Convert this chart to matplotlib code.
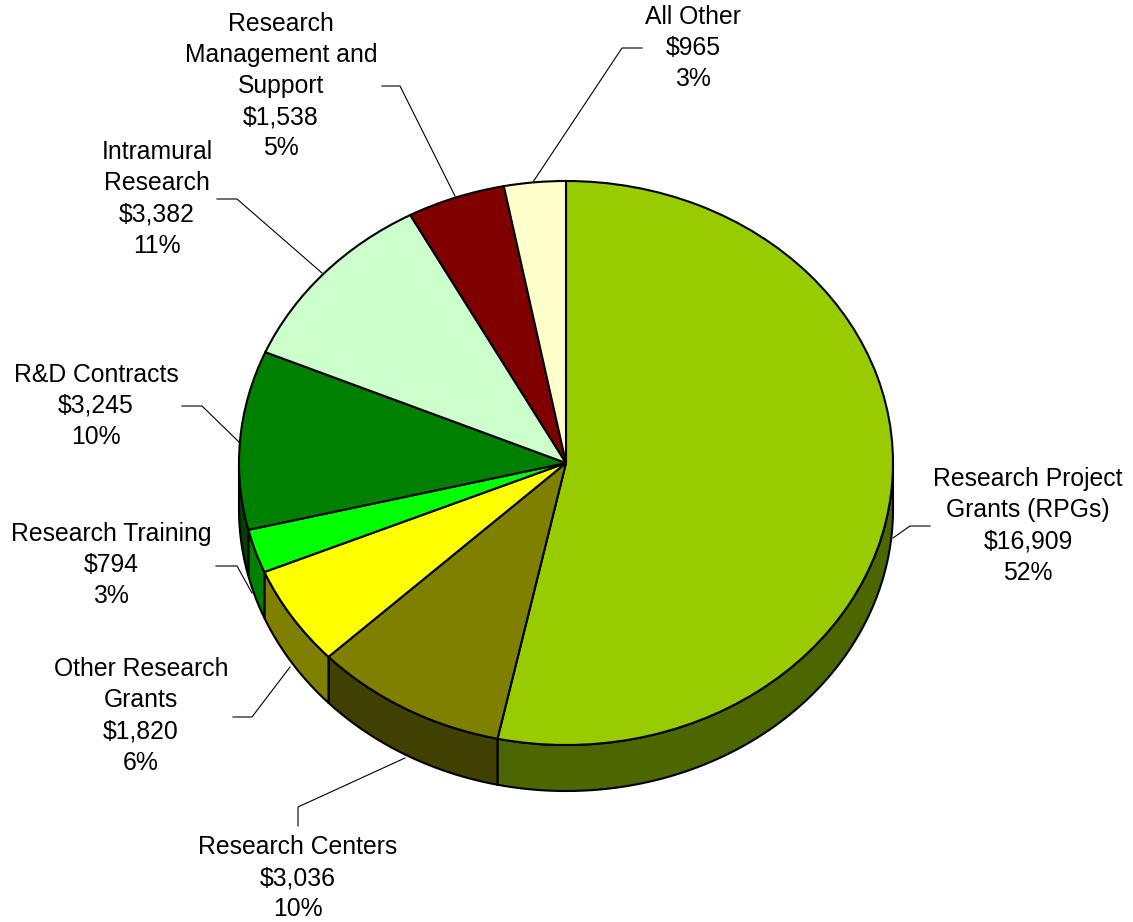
import matplotlib.pyplot as plt
import numpy as np

plt.rcParams['font.family'] = ['Liberation Sans', 'DejaVu Sans']

# data
categories = ["Research Project\nGrants (RPGs)", "Research Centers", "Other Research\nGrants",
              "Research Training", "R&D Contracts", "Intramural\nResearch",
              "Research\nManagement and\nSupport", "All Other"]
amounts = [16909, 3036, 1820, 794, 3245, 3382, 1538, 965]
pct_labels = ["52%", "10%", "6%", "3%", "10%", "11%", "5%", "3%"]
top_colors = ["#99CC00", "#808000", "#FFFF00", "#00FF00", "#008000", "#CCFFCC", "#800000", "#FFFFCC"]
side_colors = ["#4C6600", "#404000", "#808000", "#008000", "#004000", "#668066", "#400000", "#808066"]

# layout (pixels of the 1133x922 picture)
W, H = 1133, 922
CX, CY = 566, 463
RX, RY = 327, 282
DEPTH = 46

label_pos = [(1028, 526), (298, 878), (141, 716), (111, 565), (96, 406),
             (157, 199), (281, 86), (693, 48)]
leaders = [
    [(930, 526), (910, 526), (893, 538)],
    [(298, 826), (298, 807), (405, 758)],
    [(233, 717), (252, 717), (290, 667)],
    [(216, 566), (237, 566), (252, 593)],
    [(182, 406), (202, 406), (239, 442)],
    [(217, 199), (237, 199), (322, 273)],
    [(382, 86), (400, 86), (455, 196)],
    [(642, 48), (622, 48), (533, 182)],
]


def px(x, y):
    return (x - CX) / RX, (CY - y) / RY


fig = plt.figure(figsize=(W / 100, H / 100), dpi=100)
ax = fig.add_axes([0, 0, 1, 1])

wedges, _ = ax.pie(amounts, colors=top_colors, startangle=90, counterclock=False,
                   wedgeprops=dict(edgecolor="black", linewidth=1.5))
for w in wedges:
    w.set_zorder(3)

# extruded side, only the front half of the rim shows
d = DEPTH / RY
for w, sc in zip(wedges, side_colors):
    t1, t2 = w.theta1, w.theta2
    for lo, hi in [(-180, 0), (180, 360), (-540, -360)]:
        a, b = max(t1, lo), min(t2, hi)
        if b <= a:
            continue
        t = np.radians(np.linspace(a, b, 200))
        xs = np.concatenate([np.cos(t), np.cos(t[::-1])])
        ys = np.concatenate([np.sin(t), np.sin(t[::-1]) - d])
        ax.fill(xs, ys, facecolor=sc, edgecolor="black", linewidth=1.5, zorder=2)

ax.set_aspect('auto')
ax.set_xlim(px(0, 0)[0], px(W, 0)[0])
ax.set_ylim(px(0, H)[1], px(0, 0)[1])
ax.axis('off')

for name, amt, pct, pos, path in zip(categories, amounts, pct_labels, label_pos, leaders):
    tx, ty = px(*pos)
    ax.text(tx, ty, f"{name}\n${amt:,}\n{pct}", ha="center", va="center",
            multialignment="center", fontsize=17.8, linespacing=1.37, zorder=5)
    pts = [px(*p) for p in path]
    ax.plot([p[0] for p in pts], [p[1] for p in pts], color="black", linewidth=0.8, zorder=4)

fig.savefig("out.png", dpi=100)
